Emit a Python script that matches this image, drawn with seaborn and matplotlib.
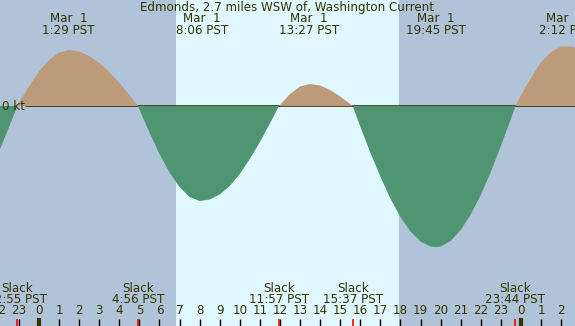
import numpy as np
import pandas as pd
import matplotlib
matplotlib.use("Agg")
import matplotlib.pyplot as plt
import matplotlib.transforms as mtransforms
import seaborn as sns

# Current speed (knots), hours from midnight Mar 1
hours = [-2.0, -1.5, -1.08, -1.0, -0.5, 0.0, 0.5, 1.0, 1.5, 2.0, 2.5, 3.0, 3.5,
         4.0, 4.5, 4.93, 5.0, 5.5, 6.0, 6.5, 7.0, 7.5, 8.0, 8.5, 9.0, 9.5,
         10.0, 10.5, 11.0, 11.5, 11.95, 12.0, 12.5, 13.0, 13.5, 14.0, 14.5,
         15.0, 15.5, 15.62, 16.0, 16.5, 17.0, 17.5, 18.0, 18.5, 19.0, 19.5,
         19.75, 20.0, 20.5, 21.0, 21.5, 22.0, 22.5, 23.0, 23.5, 23.73, 24.0,
         24.5, 25.0, 25.5, 26.0, 26.5, 27.0]
knots = [-0.92, -0.43, 0.0, 0.06, 0.39, 0.69, 0.92, 1.07, 1.12, 1.09, 1.00,
         0.86, 0.68, 0.46, 0.22, 0.0, -0.07, -0.53, -0.96, -1.33, -1.62,
         -1.82, -1.90, -1.87, -1.77, -1.60, -1.36, -1.06, -0.72, -0.35, 0.0,
         0.02, 0.24, 0.39, 0.44, 0.41, 0.32, 0.19, 0.04, 0.0, -0.41, -0.93,
         -1.41, -1.85, -2.22, -2.51, -2.71, -2.81, -2.82, -2.81, -2.70, -2.48,
         -2.17, -1.78, -1.32, -0.80, -0.26, 0.0, 0.21, 0.56, 0.87, 1.08, 1.19,
         1.19, 1.14]

max_hours = [1.48, 8.1, 13.45, 19.75, 26.2]
max_dates = ["Mar  1", "Mar  1", "Mar  1", "Mar  1", "Mar  2"]
max_labels = ["1:29 PST", "8:06 PST", "13:27 PST", "19:45 PST", "2:12 PST"]

slack_hours = [-1.08, 4.93, 11.95, 15.62, 23.73]
slack_labels = ["22:55 PST", "4:56 PST", "11:57 PST", "15:37 PST", "23:44 PST"]

sunrise, sunset = 6.82, 17.93
hour_ticks = list(range(-2, 27))
midnights = [0, 24]

TITLE = "Edmonds, 2.7 miles WSW of, Washington Current"
NIGHT, DAY = "#b0c3d9", "#e0f7ff"
FLOOD, EBB = "#bc9a7a", "#509572"
INK = "#333300"

W, H = 575, 326
X0, XPH = 39.0, 20.08        # pixel of midnight, pixels per hour
ZERO_PX, PX_PER_KT = 106.0, 50.0

df = pd.DataFrame({"hour": hours, "kt": knots})


def ypos(py):
    # pixel row from top -> axes fraction
    return 1 - py / H


sns.set_style("white")
plt.rcParams["font.family"] = ["DejaVu Sans"]

fig = plt.figure(figsize=(W / 100, H / 100), dpi=100)
ax = fig.add_axes([0, 0, 1, 1])
ax.set_xlim(-X0 / XPH, (W - X0) / XPH)
ax.set_ylim(-(H - ZERO_PX) / PX_PER_KT, ZERO_PX / PX_PER_KT)
ax.axis("off")

# night / day bands
ax.axvspan(-5, sunrise, color=NIGHT, lw=0, zorder=0)
ax.axvspan(sunrise, sunset, color=DAY, lw=0, zorder=0)
ax.axvspan(sunset, 30, color=NIGHT, lw=0, zorder=0)

ax.axhline(0, xmin=26 / W, xmax=1, color=INK, lw=1.2, zorder=1)
ax.fill_between(df["hour"], 0, df["kt"], where=df["kt"] >= 0, interpolate=True,
                color=FLOOD, lw=0, zorder=2)
ax.fill_between(df["hour"], 0, df["kt"], where=df["kt"] <= 0, interpolate=True,
                color=EBB, lw=0, zorder=3)
sns.lineplot(data=df, x="hour", y="kt", ax=ax, lw=0, legend=False)

trans = mtransforms.blended_transform_factory(ax.transData, ax.transAxes)
fs = 8.6

ax.text(0.5, ypos(7), TITLE, transform=ax.transAxes, ha="center", va="center",
        fontsize=fs, color=INK)
ax.text(2 / W, ypos(106), "0 kt", transform=ax.transAxes, ha="left",
        va="center", fontsize=fs, color=INK, zorder=5)

for h, d, lab in zip(max_hours, max_dates, max_labels):
    ax.text(h, ypos(19), d, transform=trans, ha="center", va="center",
            fontsize=fs, color=INK)
    ax.text(h, ypos(31), lab, transform=trans, ha="center", va="center",
            fontsize=fs, color=INK)

for h, lab in zip(slack_hours, slack_labels):
    ax.text(h, ypos(288), "Slack", transform=trans, ha="center", va="center",
            fontsize=fs, color=INK)
    ax.text(h, ypos(299.5), lab, transform=trans, ha="center", va="center",
            fontsize=fs, color=INK)

for h in hour_ticks:
    ax.text(h, ypos(311), str(h % 24), transform=trans, ha="center",
            va="center", fontsize=fs, color=INK)

# tick marks along the bottom
sns.rugplot(x=hour_ticks, ax=ax, height=7 / H, color="black", linewidth=1,
            zorder=6)
sns.rugplot(x=slack_hours, ax=ax, height=7 / H, color="red", linewidth=1.2,
            zorder=7)
sns.rugplot(x=midnights, ax=ax, height=8 / H, color=INK, linewidth=3,
            zorder=7)

fig.savefig("out.png", dpi=100)
